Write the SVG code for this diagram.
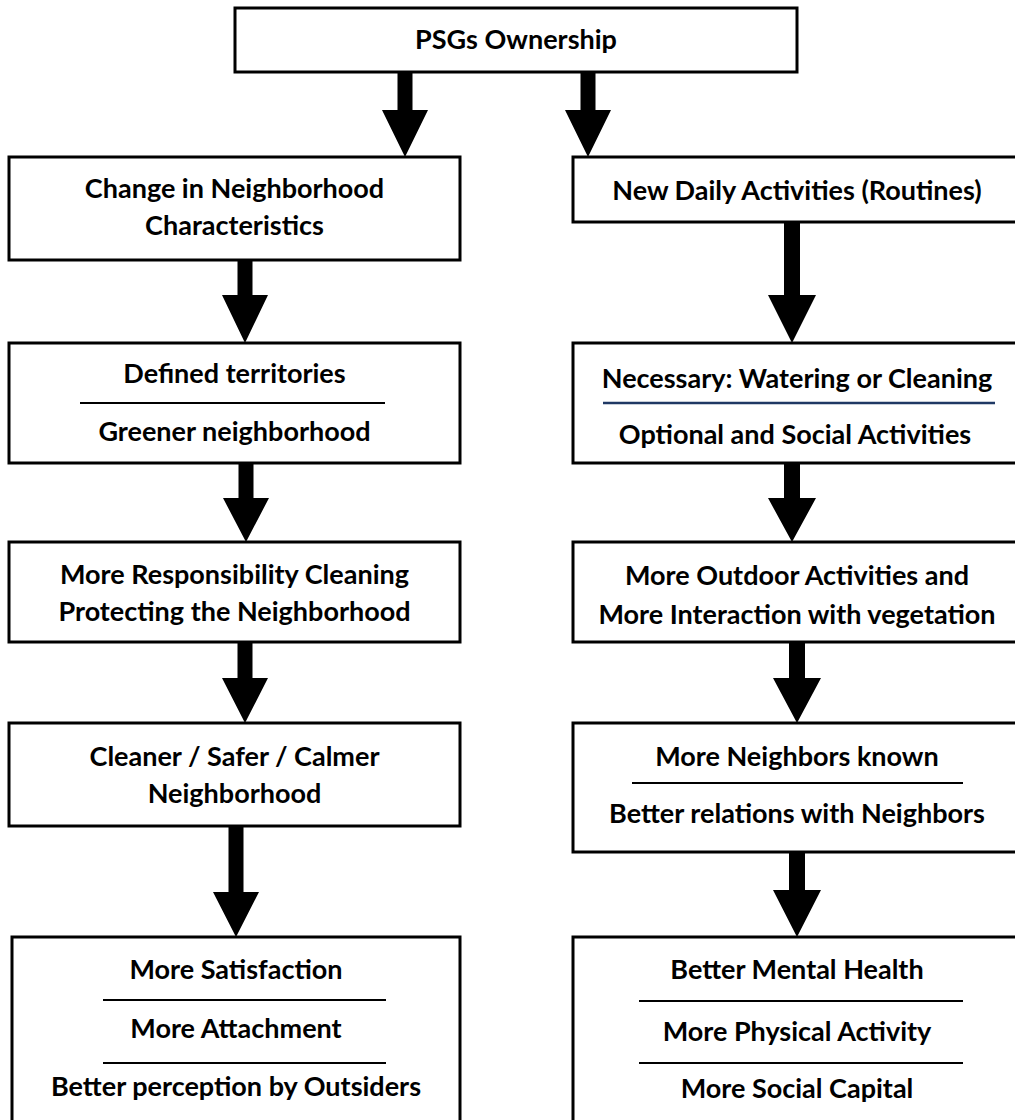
<svg xmlns="http://www.w3.org/2000/svg" width="1015" height="1120" viewBox="0 0 1015 1120">
  <style>
    .box { fill: #ffffff; stroke: #000000; stroke-width: 3; }
    .lbl { font-family: Lato, "Liberation Sans", sans-serif; font-weight: bold; font-size: 27px; fill: #000000; text-anchor: middle; }
    .rule { stroke: #000000; stroke-width: 2; }
    .rule-blue { stroke: #1f3864; stroke-width: 2.5; }
    .arrow { fill: #000000; }
  </style>
  <rect width="1015" height="1120" fill="#ffffff"/>

  <!-- block arrows between stages -->
  <g id="connectors">
    <path class="arrow" d="M397.5,72 H412.5 V110 H428 L405,157 L382,110 H397.5 Z"/>
    <path class="arrow" d="M580.5,72 H595.5 V110 H611 L588,157 L565,110 H580.5 Z"/>
    <path class="arrow" d="M237.5,260 H252.5 V295 H268 L245,343 L222,295 H237.5 Z"/>
    <path class="arrow" d="M784,222 H800 V295 H816 L792,343 L768,295 H784 Z"/>
    <path class="arrow" d="M238.5,463 H253.5 V498 H269 L246,542 L223,498 H238.5 Z"/>
    <path class="arrow" d="M784,463 H800 V498 H816 L792,542 L768,498 H784 Z"/>
    <path class="arrow" d="M237.5,642 H252.5 V678 H268 L245,723 L222,678 H237.5 Z"/>
    <path class="arrow" d="M789,642 H805 V678 H821 L797,723 L773,678 H789 Z"/>
    <path class="arrow" d="M228.5,826 H243.5 V892 H259 L236,937 L213,892 H228.5 Z"/>
    <path class="arrow" d="M789,852 H805 V890 H821 L797,937 L773,890 H789 Z"/>
  </g>

  <g id="psgs-ownership">
    <rect class="box" x="235" y="8" width="562" height="64"/>
    <text class="lbl" x="516" y="49">PSGs Ownership</text>
  </g>

  <g id="change-characteristics">
    <rect class="box" x="9" y="157" width="451" height="103"/>
    <text class="lbl" x="234.5" y="198">Change in Neighborhood</text>
    <text class="lbl" x="234.5" y="235">Characteristics</text>
  </g>

  <g id="new-daily-activities">
    <rect class="box" x="573" y="157" width="450" height="65"/>
    <text class="lbl" x="797" y="200">New Daily Activities (Routines)</text>
  </g>

  <g id="territories-greener">
    <rect class="box" x="9" y="343" width="451" height="120"/>
    <text class="lbl" x="234.5" y="383">Defined territories</text>
    <line class="rule" x1="80" y1="403" x2="385" y2="403"/>
    <text class="lbl" x="234.5" y="441">Greener neighborhood</text>
  </g>

  <g id="necessary-optional">
    <rect class="box" x="573" y="343" width="450" height="120"/>
    <text class="lbl" x="797" y="388">Necessary: Watering or Cleaning</text>
    <line class="rule-blue" x1="603" y1="403" x2="995" y2="403"/>
    <text class="lbl" x="795" y="444">Optional and Social Activities</text>
  </g>

  <g id="more-responsibility">
    <rect class="box" x="9" y="542" width="451" height="100"/>
    <text class="lbl" x="234.5" y="584">More Responsibility Cleaning</text>
    <text class="lbl" x="234.5" y="621">Protecting the Neighborhood</text>
  </g>

  <g id="more-outdoor">
    <rect class="box" x="573" y="542" width="450" height="100"/>
    <text class="lbl" x="797" y="585">More Outdoor Activities and</text>
    <text class="lbl" x="797" y="624">More Interaction with vegetation</text>
  </g>

  <g id="cleaner-safer-calmer">
    <rect class="box" x="9" y="723" width="451" height="103"/>
    <text class="lbl" x="234.5" y="766">Cleaner / Safer / Calmer</text>
    <text class="lbl" x="234.5" y="803">Neighborhood</text>
  </g>

  <g id="neighbor-relations">
    <rect class="box" x="573" y="723" width="450" height="129"/>
    <text class="lbl" x="797" y="766">More Neighbors known</text>
    <line class="rule" x1="632" y1="783" x2="963" y2="783"/>
    <text class="lbl" x="797" y="823">Better relations with Neighbors</text>
  </g>

  <g id="place-outcomes">
    <rect class="box" x="12" y="937" width="448" height="190"/>
    <text class="lbl" x="236" y="979">More Satisfaction</text>
    <line class="rule" x1="103" y1="1000" x2="386" y2="1000"/>
    <text class="lbl" x="236" y="1038">More Attachment</text>
    <line class="rule" x1="103" y1="1063" x2="386" y2="1063"/>
    <text class="lbl" x="236" y="1096">Better perception by Outsiders</text>
  </g>

  <g id="health-outcomes">
    <rect class="box" x="573" y="937" width="450" height="190"/>
    <text class="lbl" x="797" y="979">Better Mental Health</text>
    <line class="rule" x1="639" y1="1001" x2="963" y2="1001"/>
    <text class="lbl" x="797" y="1041">More Physical Activity</text>
    <line class="rule" x1="639" y1="1063" x2="963" y2="1063"/>
    <text class="lbl" x="797" y="1098">More Social Capital</text>
  </g>
</svg>
